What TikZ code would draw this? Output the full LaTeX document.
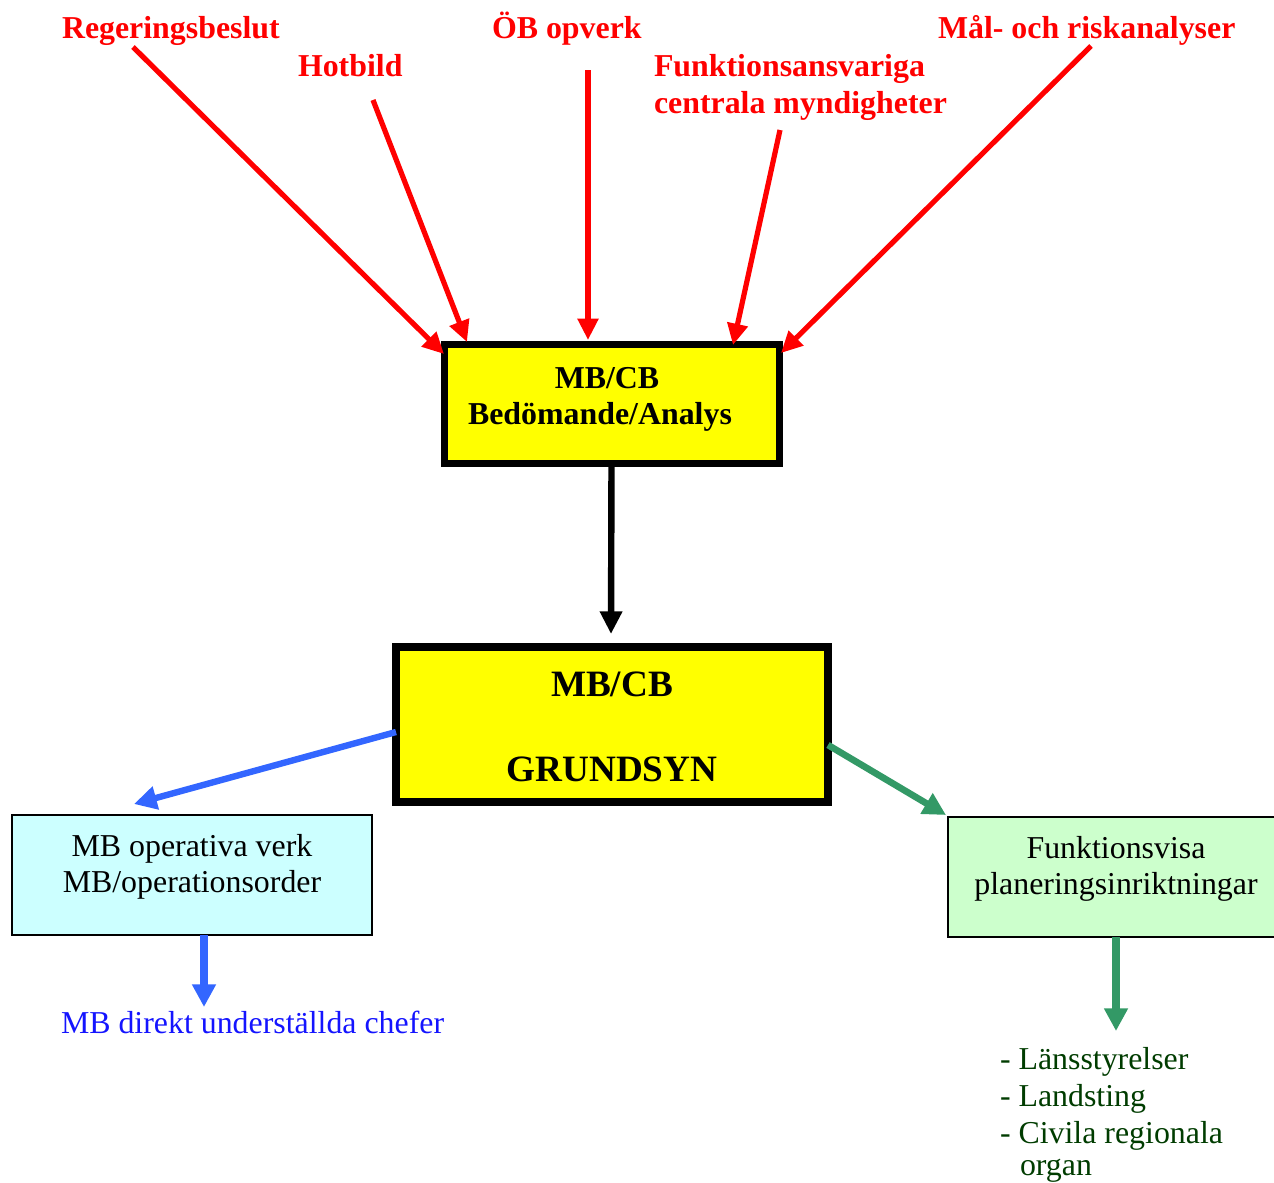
\documentclass[tikz,border=0pt]{standalone}
\usepackage{fontspec}
\setmainfont{Liberation Serif}
\usetikzlibrary{arrows.meta}
\definecolor{inred}{RGB}{255,0,0}
\definecolor{flowblue}{RGB}{51,102,255}
\definecolor{flowgreen}{RGB}{51,153,102}
\definecolor{listgreen}{RGB}{0,60,0}
\definecolor{textblue}{RGB}{20,20,255}
\definecolor{boxyellow}{RGB}{255,255,0}
\definecolor{boxcyan}{RGB}{204,255,255}
\definecolor{boxmint}{RGB}{204,255,204}

\begin{document}
\begin{tikzpicture}[x=0.75pt,y=-0.75pt,
  txt/.style={inner sep=0pt, outer sep=0pt, font=\fontsize{23.9}{27.75}\selectfont},
  inlabel/.style={txt, font=\fontsize{23.9}{27.75}\selectfont\bfseries, text=inred, anchor=base west, align=left},
  keybox/.style={draw=black, fill=boxyellow, inner sep=0pt, outer sep=0pt},
  outbox/.style={draw=black, line width=1.5pt, inner sep=0pt, outer sep=0pt},
  redarrow/.style={draw=inred, line width=3.9pt, -{Triangle[length=16pt,width=15pt]}},
  blackarrow/.style={draw=black, line width=4.8pt, -{Triangle[length=17pt,width=16pt]}},
  bluearrow/.style={draw=flowblue, line width=4.8pt, -{Triangle[length=17pt,width=17pt]}},
  greenarrow/.style={draw=flowgreen, line width=5pt, -{Triangle[length=17pt,width=17pt]}}
]
\useasboundingbox (0,0) rectangle (1274,1182);
\clip (0,0) rectangle (1274,1182);

% central boxes
\node[keybox, line width=5.25pt, minimum width=251.25pt, minimum height=89.25pt] (analys) at (611.5,403.5) {};
\node[keybox, line width=6pt, minimum width=324pt, minimum height=116.25pt] (grundsyn) at (612,724.5) {};

\node[txt, font=\fontsize{23.9}{27.75}\selectfont\bfseries, anchor=base] (analysA) at (607,388) {MB/CB};
\node[txt, font=\fontsize{23.9}{27.75}\selectfont\bfseries, anchor=base] (analysB) at (600,424) {Bedömande/Analys};
\node[txt, font=\fontsize{27.9}{32}\selectfont\bfseries, anchor=base] (grundA) at (612,696) {MB/CB};
\node[txt, font=\fontsize{27.9}{32}\selectfont\bfseries, anchor=base] (grundB) at (612,781) {GRUNDSYN};

% output boxes
\node[outbox, fill=boxcyan, minimum width=270pt, minimum height=90pt] (operativ) at (192,875) {};
\node[outbox, fill=boxmint, minimum width=256.5pt, minimum height=90pt] (funktion) at (1119,877) {};

\node[txt, anchor=base] (operA) at (192,856) {MB operativa verk};
\node[txt, anchor=base] (operB) at (192,892) {MB/operationsorder};
\node[txt, anchor=base] (funkA) at (1116,858) {Funktionsvisa};
\node[txt, anchor=base] (funkB) at (1116,894) {planeringsinriktningar};

% input labels
\node[inlabel] (reg) at (62,38) {Regeringsbeslut};
\node[inlabel] (hot) at (298,76) {Hotbild};
\node[inlabel] (ob) at (492,38) {ÖB opverk};
\node[inlabel] (funkcm1) at (654,76) {Funktionsansvariga};
\node[inlabel] (funkcm2) at (654,113) {centrala myndigheter};
\node[inlabel] (mal) at (938,38) {Mål- och riskanalyser};

% result texts
\node[txt, text=textblue, anchor=base west] (chefer) at (61,1033) {MB direkt underställda chefer};
\node[txt, text=listgreen, anchor=base west] (l1) at (1000,1069) {- Länsstyrelser};
\node[txt, text=listgreen, anchor=base west] (l2) at (1000,1106) {- Landsting};
\node[txt, text=listgreen, anchor=base west] (l3) at (1000,1143) {- Civila regionala};
\node[txt, text=listgreen, anchor=base west] (l4) at (1020,1175) {organ};

% connector ends
\coordinate (s1) at (133,47);   \coordinate (e1) at (444,354);
\coordinate (s2) at (373,100);  \coordinate (e2) at (467,342);
\coordinate (s3) at (588,70);   \coordinate (e3) at (588,340);
\coordinate (s4) at (780,130);  \coordinate (e4) at (733,345);
\coordinate (s5) at (1091,46);  \coordinate (e5) at (781,353);
\coordinate (e6) at (611,634);
\coordinate (s7) at (396,732);  \coordinate (e7) at (134,804);
\coordinate (s8) at (828,745);  \coordinate (e8) at (946,815);
\coordinate (s9) at (204,935);  \coordinate (e9) at (204,1007);
\coordinate (s10) at (1116,937); \coordinate (e10) at (1116,1031);

% inputs into the analysis
\draw[redarrow] (s1) -- (e1);
\draw[redarrow] (s2) -- (e2);
\draw[redarrow] (s3) -- (e3);
\draw[redarrow] (s4) -- (e4);
\draw[redarrow] (s5) -- (e5);

% analysis to grundsyn
\draw[blackarrow] (analys.south) ++(0,-2) coordinate (s6) (s6) -- (e6);

% grundsyn outputs
\draw[bluearrow] (s7) -- (e7);
\draw[greenarrow] (s8) -- (e8);
\draw[bluearrow, line width=5.3pt] (s9) -- (e9);
\draw[greenarrow, line width=6pt] (s10) -- (e10);
\end{tikzpicture}
\end{document}
